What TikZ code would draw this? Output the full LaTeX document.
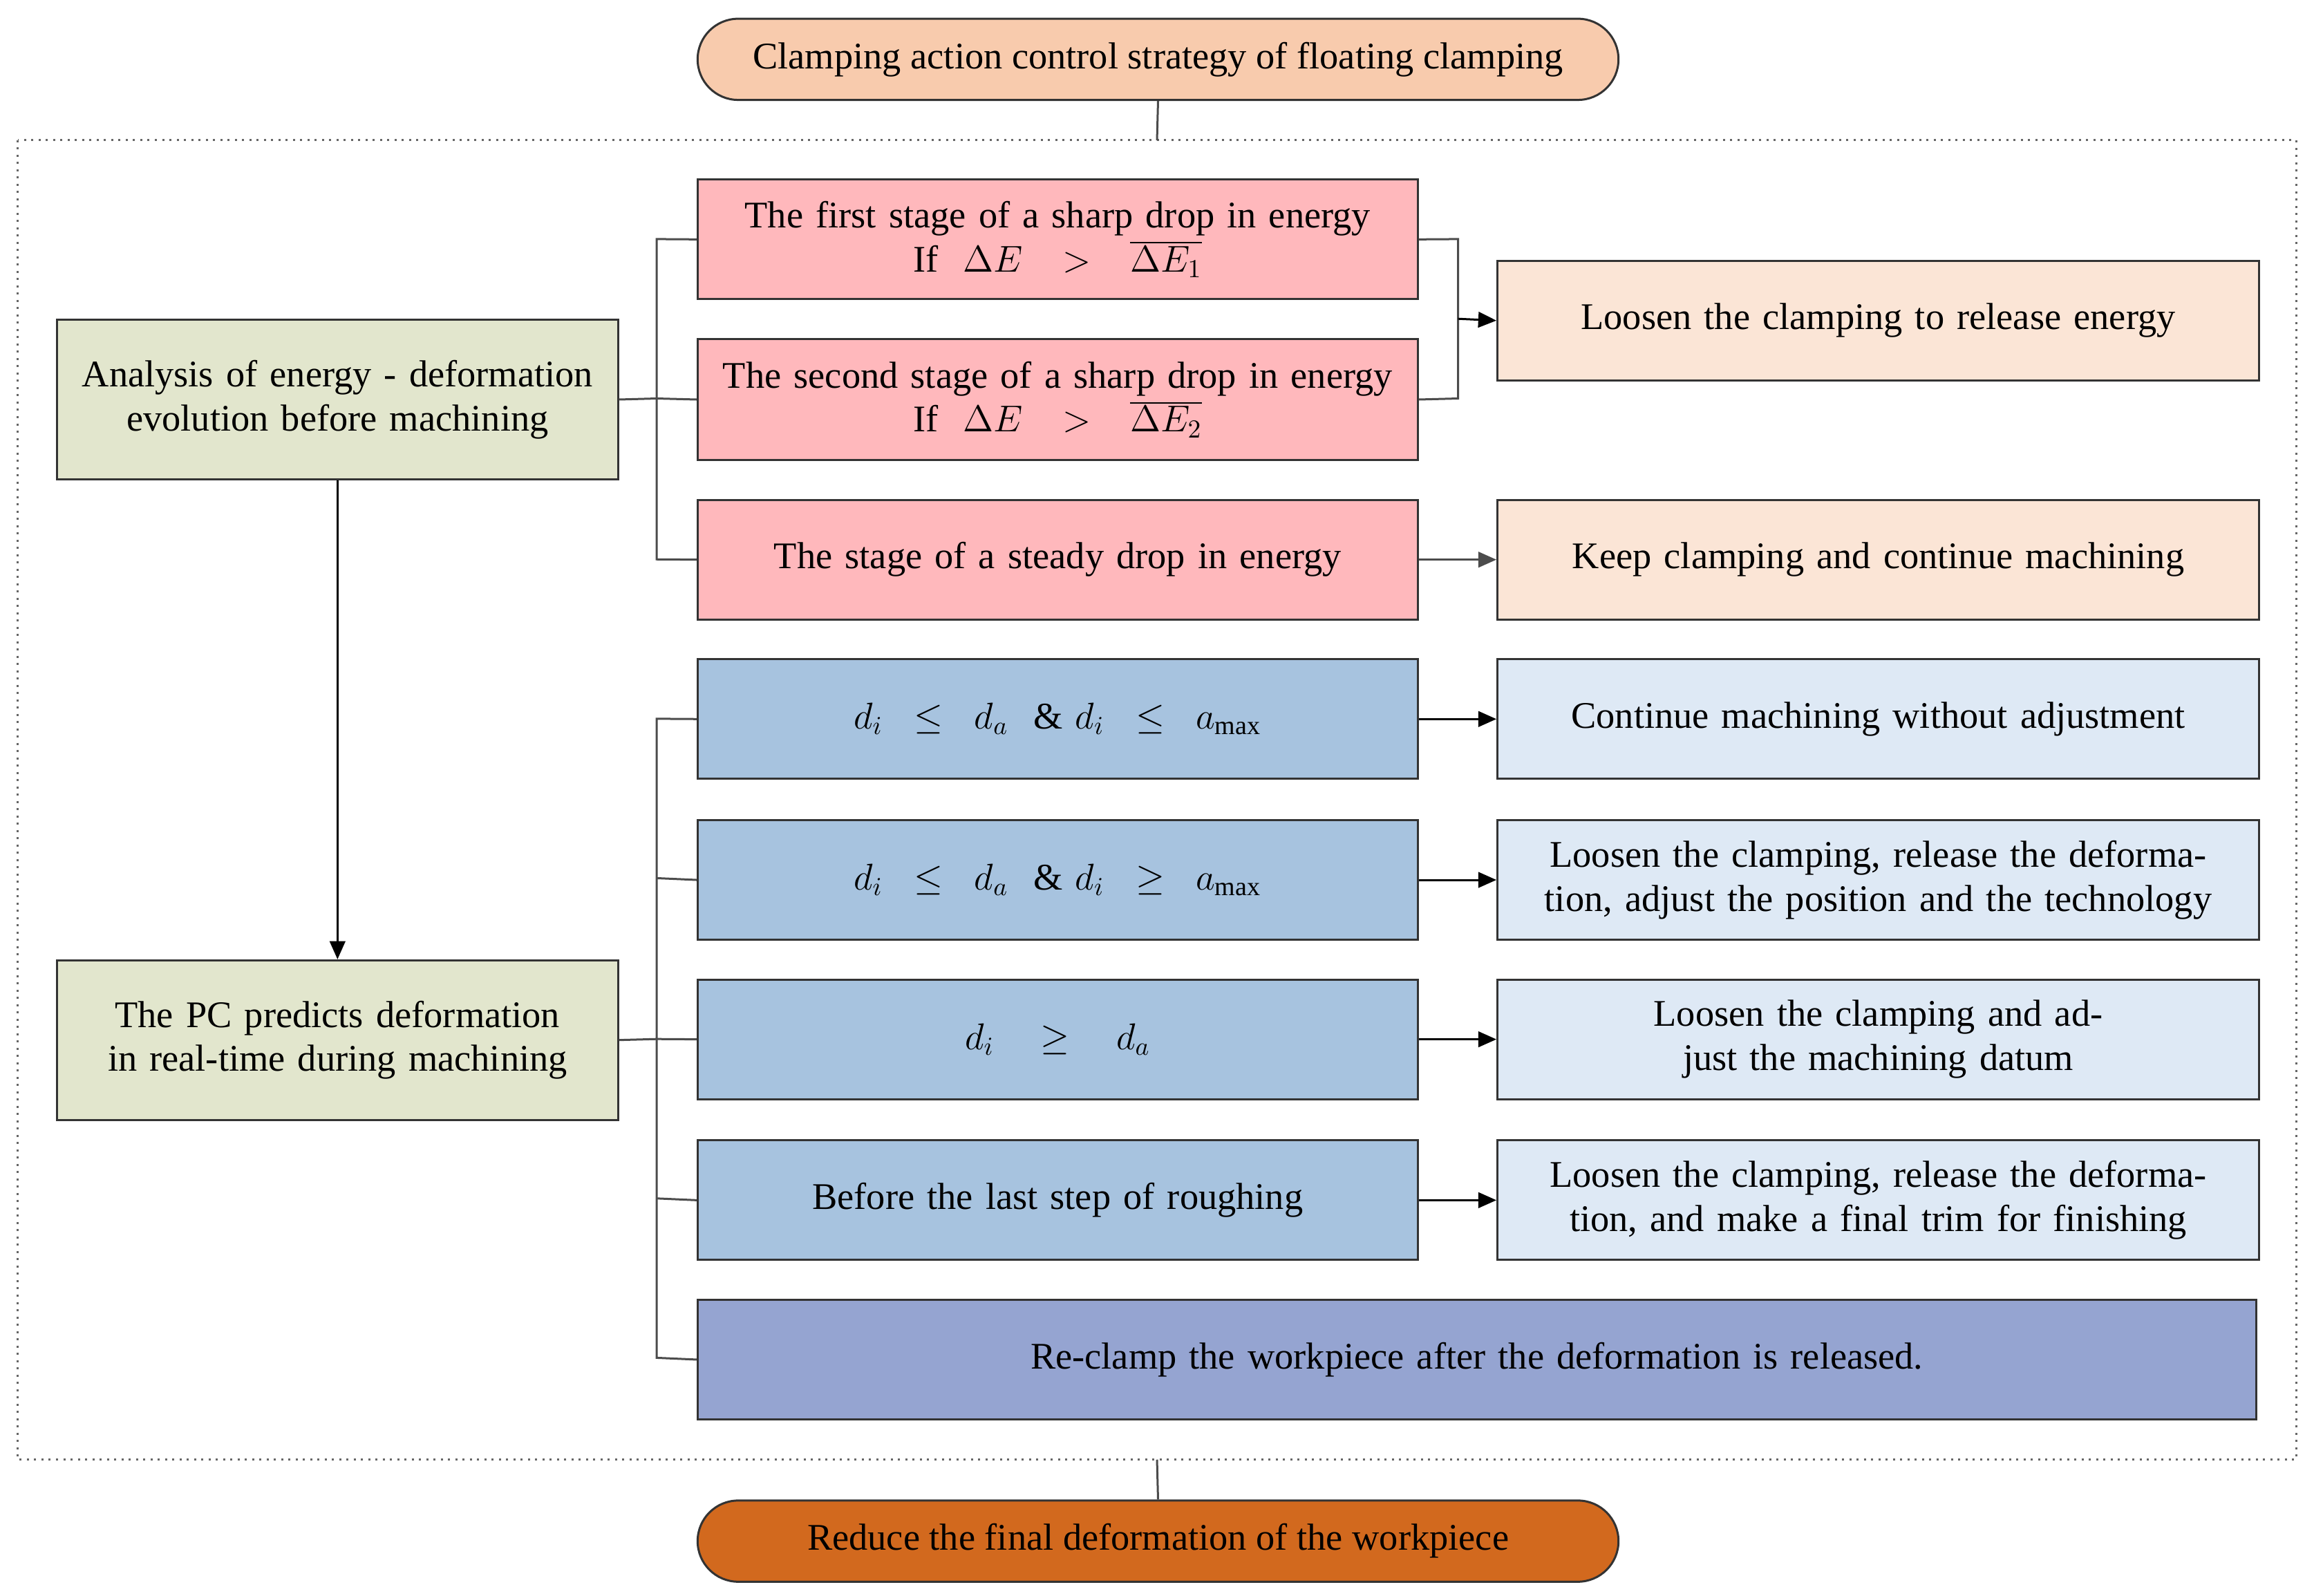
\documentclass[tikz,border=0pt]{standalone}
\usepackage{fontspec}
\setmainfont{Liberation Serif}
\usetikzlibrary{arrows.meta}
\definecolor{cTop}{HTML}{F8CBAD}
\definecolor{cBot}{HTML}{D2691E}
\definecolor{cGreen}{HTML}{E2E6CD}
\definecolor{cPink}{HTML}{FFB8BC}
\definecolor{cPeach}{HTML}{FBE5D6}
\definecolor{cBlue}{HTML}{A7C3DF}
\definecolor{cLBlue}{HTML}{DEE9F5}
\definecolor{cPurple}{HTML}{95A4D1}
\begin{document}
\begin{tikzpicture}[x=0.02cm,y=-0.02cm,
  every node/.style={font=\fontsize{14.5}{17}\selectfont},
  box/.style={draw=black!80,line width=0.8pt,anchor=north west,inner sep=0pt,align=center},
  pill/.style={box,rounded corners=0.55cm},
  ln/.style={draw=black!70,line width=0.8pt},
  arr/.style={ln,-{Triangle[length=7pt,width=6pt]}}]
\useasboundingbox (0,0) rectangle (1568,1081);
\newcommand{\bx}[7]{\node[box,fill=#6,minimum width=#3*0.02cm,minimum height=#4*0.02cm,text width=#3*0.02cm-4pt] (#5) at (#1,#2) {#7};}
\node[pill,fill=cTop,minimum width=624*0.02cm,minimum height=55*0.02cm] (top) at (472,12) {Clamping action control strategy of floating clamping};
\node[pill,fill=cBot,minimum width=624*0.02cm,minimum height=55*0.02cm] (bot) at (472,1016) {Reduce the final deformation of the workpiece};
\draw[black!60,dotted,line width=0.8pt] (12,95) rectangle (1556,989);
\coordinate (ft) at (784,95); \coordinate (fb) at (784,989);
\draw[ln] (top.south) -- (ft); \draw[ln] (fb) -- (bot.north);
\bx{38}{216}{380}{108}{A}{cGreen}{Analysis of energy - deformation evolution before machining}
\bx{38}{650}{380}{108}{B}{cGreen}{The PC predicts deformation in real-time during machining}
\bx{472}{121}{488}{81}{P1}{cPink}{The first stage of a sharp drop in energy\\If \ $\Delta E>\overline{\Delta E_1}$}
\bx{472}{229}{488}{82}{P2}{cPink}{The second stage of a sharp drop in energy\\If \ $\Delta E>\overline{\Delta E_2}$}
\bx{472}{338}{488}{81}{P3}{cPink}{The stage of a steady drop in energy}
\bx{1014}{176}{516}{81}{R1}{cPeach}{Loosen the clamping to release energy}
\bx{1014}{338}{516}{81}{R2}{cPeach}{Keep clamping and continue machining}
\bx{472}{446}{488}{81}{B1}{cBlue}{$d_i\le d_a$ \ \& $d_i\le a_{\max}$}
\bx{472}{555}{488}{81}{B2}{cBlue}{$d_i\le d_a$ \ \& $d_i\ge a_{\max}$}
\bx{472}{663}{488}{81}{B3}{cBlue}{$d_i\ge d_a$}
\bx{472}{772}{488}{81}{B4}{cBlue}{Before the last step of roughing}
\bx{1014}{446}{516}{81}{L1}{cLBlue}{Continue machining without adjustment}
\bx{1014}{555}{516}{81}{L2}{cLBlue}{Loosen the clamping, release the deformation, adjust the position and the technology}
\bx{1014}{663}{516}{81}{L3}{cLBlue}{Loosen the clamping and adjust the machining datum}
\bx{1014}{772}{516}{81}{L4}{cLBlue}{Loosen the clamping, release the deformation, and make a final trim for finishing}
\bx{472}{880}{1056}{81}{B5}{cPurple}{Re-clamp the workpiece after the deformation is released.}
\draw[arr,black] (A.south) -- (B.north);
\draw[ln] (A.east) -- (445,270);
\draw[ln] (P1.west) -- (445,162) -- (445,379) -- (P3.west);
\draw[ln] (445,270) -- (P2.west);
\draw[ln] (P1.east) -- (988,162) -- (988,270) -- (P2.east);
\draw[arr,black] (988,216) -- (R1.west);
\draw[arr] (P3.east) -- (R2.west);
\draw[ln] (B.east) -- (445,704);
\draw[ln] (B1.west) -- (445,487) -- (445,920) -- (B5.west);
\draw[ln] (445,595) -- (B2.west);
\draw[ln] (445,704) -- (B3.west);
\draw[ln] (445,812) -- (B4.west);
\foreach \i in {1,2,3,4} \draw[arr,black] (B\i.east) -- (L\i.west);
\end{tikzpicture}
\end{document}
